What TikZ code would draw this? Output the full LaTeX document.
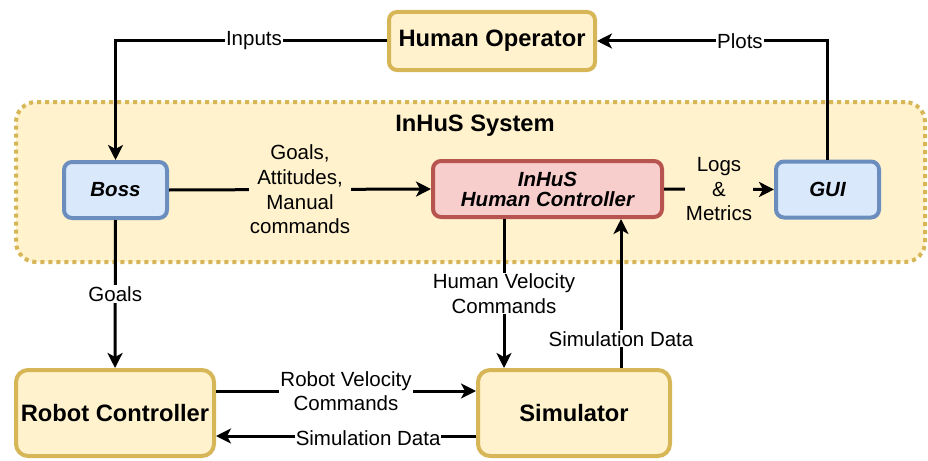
\documentclass[tikz,border=0pt]{standalone}
\usepackage{fontspec}
\setmainfont{Liberation Sans}
\usetikzlibrary{arrows.meta,positioning}
\definecolor{ylwfill}{HTML}{FFF2CC}
\definecolor{ylwline}{HTML}{D6B656}
\definecolor{bluefill}{HTML}{DAE8FC}
\definecolor{blueline}{HTML}{6C8EBF}
\definecolor{redfill}{HTML}{F8CECC}
\definecolor{redline}{HTML}{B85450}

\begin{document}
\begin{tikzpicture}[
  x=1pt, y=-1pt,
  font=\fontsize{20.5}{24.6}\selectfont,
  >={Stealth[length=15pt, width=15pt, inset=4pt]},
  box/.style={
    draw, line width=4pt, rounded corners=8pt,
    align=center, inner sep=0pt
  },
  ylwbox/.style={box, draw=ylwline, fill=ylwfill,
    font=\fontsize{23.7}{28}\selectfont\bfseries},
  bluebox/.style={box, draw=blueline, fill=bluefill,
    minimum width=103pt, minimum height=56pt,
    font=\fontsize{20.5}{24}\selectfont\bfseries\itshape},
  redbox/.style={box, draw=redline, fill=redfill,
    minimum width=229pt, minimum height=56pt,
    font=\fontsize{20.5}{20}\selectfont\bfseries\itshape},
  bigbox/.style={ylwbox, rounded corners=12pt,
    minimum height=86pt},
  sysarea/.style={draw=ylwline, fill=ylwfill, line width=4pt,
    dash pattern=on 4pt off 4pt, rounded corners=20pt,
    minimum width=909pt, minimum height=160pt, inner sep=0pt},
  arr/.style={->, line width=3pt},
  lbl/.style={fill=white, inner sep=1pt, align=center},
  syslbl/.style={lbl, fill=ylwfill}
]
  \useasboundingbox (0,0) rectangle (928,460);

  % InHuS system area
  \node[sysarea] (sys) at (470.5,182) {};
  \node[font=\fontsize{23.7}{28}\selectfont\bfseries] (systitle) at (475,126) {InHuS System};

  % Nodes
  \node[ylwbox, minimum width=206pt, minimum height=58pt] (hop) at (492,41) {Human Operator};
  \node[bluebox] (boss) at (115.5,190) {Boss};
  \node[redbox] (hc) at (547.5,189) {InHuS\\Human Controller};
  \node[bluebox] (gui) at (827.5,189.5) {GUI};
  \node[bigbox, minimum width=198pt] (rc) at (115,413) {Robot Controller};
  \node[bigbox, minimum width=192pt] (sim) at (574,413) {Simulator};

  % Operator loop
  \draw[arr] (hop.west) -| node[lbl, pos=0.245] {Inputs} (boss.north);
  \draw[arr] (gui.north) |- node[lbl, pos=0.69] {Plots} (hop.east);

  % Inside the system
  \draw[arr] (boss.east) -- node[syslbl] {Goals,\\Attitudes,\\Manual\\commands} (hc.west);
  \draw[arr] (hc.east) -- node[syslbl] {Logs\\\&\\Metrics} (gui.west);

  % Towards robot and simulator
  \draw[arr] (boss.south) -- node[lbl] {Goals} (rc.north);
  \draw[arr] ([yshift=22pt]rc.east) -- node[lbl] {Robot Velocity\\Commands} ([yshift=22pt]rc.east -| sim.west);
  \draw[arr] ([yshift=-23pt]sim.west) -- node[lbl, pos=0.415, yshift=-2pt] {Simulation Data} ([yshift=-23pt]sim.west -| rc.east);
  \draw[arr] ([xshift=-43.5pt]hc.south) -- node[lbl] {Human Velocity\\Commands} ([xshift=-43.5pt]hc.south |- sim.north);
  \draw[arr] ([xshift=47pt]sim.north) -- node[lbl, pos=0.195] {Simulation Data} ([xshift=47pt]sim.north |- hc.south);

\end{tikzpicture}
\end{document}
